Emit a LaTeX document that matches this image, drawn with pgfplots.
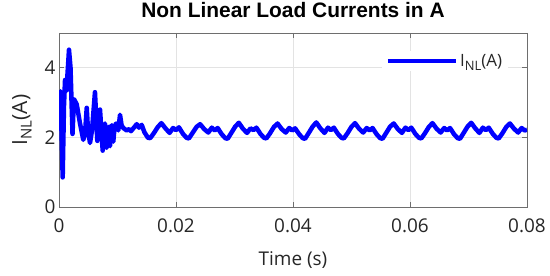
\documentclass[border=0pt]{standalone}
\usepackage{fontspec}
\setmainfont{Open Sans}
\newfontfamily\titlefont{Liberation Sans}
\usepackage{pgfplots}
\pgfplotsset{compat=1.18}

\definecolor{txt}{RGB}{38,38,38}
\definecolor{axln}{RGB}{110,110,110}

\begin{document}
\begin{tikzpicture}
\begin{axis}[
    scale only axis,
    width=468bp, height=174bp,
    xmin=0, xmax=0.08,
    ymin=0, ymax=5,
    xtick={0,0.02,0.04,0.06,0.08},
    xticklabels={0,0.02,0.04,0.06,0.08},
    scaled x ticks=false,
    ytick={0,2,4},
    grid=major,
    major grid style={gray!22, line width=0.6bp},
    axis line style={axln, line width=0.8bp},
    tick style={axln, line width=0.8bp},
    major tick length=5bp,
    tick align=inside,
    /pgf/number format/assume math mode=true,
    ticklabel style={font=\fontsize{19}{22}\selectfont, text=txt},
    xticklabel style={anchor=base, yshift=-25bp},
    title={\titlefont\bfseries Non Linear Load Currents in A},
    title style={at={(axis description cs:0.5,1)}, anchor=base, yshift=10bp,
        font=\fontsize{21}{24}\selectfont, text=black},
    xlabel={Time (s)},
    xlabel style={at={(axis description cs:0.5,0)}, anchor=base, yshift=-58bp,
        font=\fontsize{19}{22}\selectfont, text=txt},
    ylabel={I{\fontsize{15}{17}\selectfont\raisebox{-0.3em}{NL}}(A)},
    ylabel style={at={(axis description cs:-0.068,0.5)}, anchor=base,
        font=\fontsize{21}{24}\selectfont, text=txt},
    legend style={draw=none, fill=white, at={(axis description cs:0.96,0.84)},
        anchor=east, font=\fontsize{17}{20}\selectfont, text=txt,
        inner xsep=4bp, inner ysep=1bp},
    legend image code/.code={\draw[#1] (0bp,0bp) -- (68bp,0bp);},
]
\addplot[color={rgb,255:red,0;green,0;blue,255}, line width=4.5bp, line join=round] coordinates {
(0.00000,3.35) (0.00026,3.30) (0.00063,0.85) (0.00085,2.90) (0.00103,3.65)
(0.00128,3.35) (0.00171,4.52) (0.00197,4.00) (0.00231,2.10) (0.00256,3.10)
(0.00303,2.95) (0.00359,2.40) (0.00415,1.93) (0.00444,2.10) (0.00474,2.85)
(0.00496,2.20) (0.00530,1.84) (0.00564,2.20) (0.00615,3.30) (0.00655,1.90)
(0.00701,2.80) (0.00747,1.62) (0.00770,2.30) (0.00786,2.40) (0.00800,1.80)
(0.00815,1.70) (0.00830,2.25) (0.00843,2.30) (0.00858,1.85) (0.00872,1.75)
(0.00890,2.30) (0.00901,2.35) (0.00915,1.95) (0.00928,1.88) (0.00950,2.30)
(0.00974,2.40) (0.01014,2.20) (0.01043,2.65) (0.01070,2.35) (0.01099,2.27)
(0.01157,2.20) (0.01200,2.24) (0.01231,2.18) (0.01290,2.30) (0.01328,2.38)
(0.01368,2.28) (0.01414,2.36) (0.01460,2.15) (0.01520,1.99) (0.01560,1.98)
(0.01620,2.12) (0.01690,2.30)
(0.01750,2.41) (0.01820,2.26) (0.01890,2.13) (0.01950,2.27) (0.02000,2.21)
(0.02050,2.29) (0.02120,2.10) (0.02180,1.99) (0.02220,1.97) (0.02280,2.12)
(0.02350,2.30)
(0.02412,2.38) (0.02482,2.24) (0.02552,2.14) (0.02612,2.28) (0.02662,2.20)
(0.02712,2.27) (0.02782,2.09) (0.02842,1.98) (0.02882,1.96) (0.02942,2.12)
(0.03012,2.31)
(0.03074,2.42) (0.03144,2.25) (0.03214,2.13) (0.03274,2.26) (0.03324,2.21)
(0.03374,2.28) (0.03444,2.10) (0.03504,1.99) (0.03544,1.97) (0.03604,2.11)
(0.03674,2.30)
(0.03736,2.40) (0.03806,2.24) (0.03876,2.14) (0.03936,2.27) (0.03986,2.20)
(0.04036,2.26) (0.04106,2.09) (0.04166,1.98) (0.04206,1.96) (0.04266,2.12)
(0.04336,2.31)
(0.04398,2.43) (0.04468,2.26) (0.04538,2.13) (0.04598,2.28) (0.04648,2.21)
(0.04698,2.28) (0.04768,2.10) (0.04828,1.99) (0.04868,1.97) (0.04928,2.11)
(0.04998,2.30)
(0.05060,2.41) (0.05130,2.25) (0.05200,2.14) (0.05260,2.27) (0.05310,2.20)
(0.05360,2.27) (0.05430,2.09) (0.05490,1.98) (0.05530,1.96) (0.05590,2.12)
(0.05660,2.31)
(0.05722,2.40) (0.05792,2.24) (0.05862,2.13) (0.05922,2.28) (0.05972,2.21)
(0.06022,2.28) (0.06092,2.10) (0.06152,1.99) (0.06192,1.97) (0.06252,2.11)
(0.06322,2.30)
(0.06384,2.41) (0.06454,2.25) (0.06524,2.14) (0.06584,2.27) (0.06634,2.20)
(0.06684,2.27) (0.06754,2.09) (0.06814,1.98) (0.06854,1.96) (0.06914,2.12)
(0.06984,2.31)
(0.07046,2.42) (0.07116,2.26) (0.07186,2.13) (0.07246,2.28) (0.07296,2.21)
(0.07346,2.28) (0.07416,2.10) (0.07476,1.99) (0.07516,1.97) (0.07576,2.11)
(0.07646,2.30)
(0.07708,2.40) (0.07778,2.25) (0.07848,2.14) (0.07908,2.27) (0.07958,2.20)
(0.08000,2.22)
};
\addlegendentry{I{\fontsize{13}{15}\selectfont\raisebox{-0.3em}{NL}}(A)}
\end{axis}
\pgfresetboundingbox
\useasboundingbox (-59bp,-69bp) rectangle (491bp,207bp);
\end{tikzpicture}
\end{document}
